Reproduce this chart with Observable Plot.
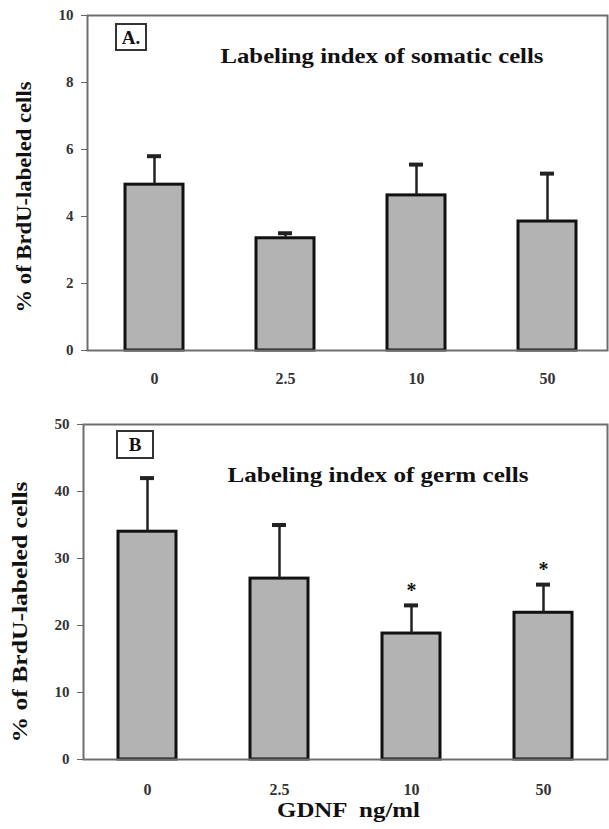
<!DOCTYPE html>
<html><head><meta charset="utf-8">
<script src="https://cdn.jsdelivr.net/npm/d3@7"></script>
<script src="https://cdn.jsdelivr.net/npm/@observablehq/plot@0.6"></script>
<style>
body{margin:0;background:#fff;overflow:hidden}
#wrap{position:relative;width:609px;height:829px;background:#fff}
.panel{position:absolute;left:0}
.tag{position:absolute;border:2px solid #333;font:bold 19px "Liberation Serif",serif;color:#111;text-align:center;box-sizing:border-box;background:#fff}
</style></head><body>
<div id="wrap">
  <div id="pa" class="panel" style="top:0"></div>
  <div id="pb" class="panel" style="top:400px"></div>
  <div class="tag" style="left:115px;top:23px;width:32px;height:28px;line-height:25px">A.</div>
  <div class="tag" style="left:116px;top:430px;width:38px;height:29px;line-height:26px">B</div>
</div>
<script>
// ---- data ----
const doses = ["0", "2.5", "10", "50"];
const somaticMean = [4.95, 3.35, 4.63, 3.85];
const somaticErr  = [5.8, 3.5, 5.55, 5.28];
const germMean = [34, 27, 18.8, 21.9];
const germErr  = [42, 35, 23, 26.1];
const germSig  = ["", "", "*", "*"];
const somaticTicks = [0, 2, 4, 6, 8, 10];
const germTicks = [0, 10, 20, 30, 40, 50];
const titleA = "Labeling index of somatic cells";
const titleB = "Labeling index of germ cells";
const yLabel = "% of BrdU-labeled cells";
const xLabel = "GDNF  ng/ml";

const serif = "Liberation Serif, Times New Roman, serif";

function stretch(svg, str, len) {
  svg.querySelectorAll("text").forEach(t => {
    if (t.textContent === str) {
      t.setAttribute("textLength", len);
      t.setAttribute("lengthAdjust", "spacingAndGlyphs");
    }
  });
}

function panel({mean, err, sig, ticks, title, height, mt, mb, ml, align, titleDx, titleDy, titleLen, ylabDx, ylabDy, ylabSize, ylabLen, tickPad, xlab}) {
  const rows = doses.map((d, i) => ({dose: d, mean: mean[i], err: err[i], sig: sig ? sig[i] : ""}));
  const marks = [
    Plot.barY(rows, {x: "dose", y: "mean", fill: "#b3b3b3", stroke: "#111", strokeWidth: 3}),
    Plot.ruleX(rows, {x: "dose", y1: "mean", y2: "err", stroke: "#222", strokeWidth: 2.5}),
    Plot.tickY(rows, {x: "dose", y: "err", stroke: "#222", strokeWidth: 4, insetLeft: 22, insetRight: 22}),
    Plot.frame({stroke: "#6e6e6e", strokeWidth: 2}),
    Plot.axisY({ticks, tickSize: 6, tickPadding: 8, stroke: "#666", fill: "#333", fontSize: 15, fontWeight: "bold", tickFormat: d => String(d)}),
    Plot.axisX({tickSize: 0, tickPadding: tickPad, fill: "#333", fontSize: 16, fontWeight: "bold"}),
    Plot.text([title], {text: d => d, frameAnchor: "top-left", textAnchor: "start", dx: titleDx, dy: titleDy, fontSize: 21, fontWeight: "bold", fill: "#111"}),
    Plot.text([yLabel], {text: d => d, frameAnchor: "left", textAnchor: "middle", rotate: -90, dx: ylabDx, dy: ylabDy, fontSize: ylabSize, fontWeight: "bold", fill: "#111"})
  ];
  if (sig) marks.push(Plot.text(rows, {x: "dose", y: "err", text: "sig", dy: -15, fontSize: 20, fontWeight: "bold", fill: "#111"}));
  if (xlab) marks.push(Plot.text([xlab], {text: d => d, frameAnchor: "bottom", dx: 3, dy: 57, fontSize: 22, fontWeight: "bold", fill: "#111"}));
  const svg = Plot.plot({
    width: 609, height, marginTop: mt, marginBottom: mb, marginLeft: ml, marginRight: 2,
    style: {fontFamily: serif, background: "#fff"},
    x: {domain: doses, paddingInner: 0.56, paddingOuter: 0.26, align, label: null, axis: null},
    y: {domain: [ticks[0], ticks[ticks.length - 1]], label: null, axis: null},
    marks
  });
  stretch(svg, title, titleLen);
  stretch(svg, yLabel, ylabLen);
  if (xlab) stretch(svg, xlab, 143);
  return svg;
}

document.getElementById("pa").append(panel({
  mean: somaticMean, err: somaticErr, sig: null, ticks: somaticTicks, title: titleA,
  height: 400, mt: 15, mb: 50, ml: 87, align: 0.55, titleDx: 133, titleDy: 33, titleLen: 323,
  ylabDx: -63, ylabDy: 14, ylabSize: 21, ylabLen: 231, tickPad: 22, xlab: null
}));
document.getElementById("pb").append(panel({
  mean: germMean, err: germErr, sig: germSig, ticks: germTicks, title: titleB,
  height: 429, mt: 24, mb: 70, ml: 83, align: 0.5, titleDx: 144, titleDy: 43, titleLen: 301,
  ylabDx: -64, ylabDy: 20, ylabSize: 22, ylabLen: 261, tickPad: 24, xlab: xLabel
}));
</script>
</body></html>
